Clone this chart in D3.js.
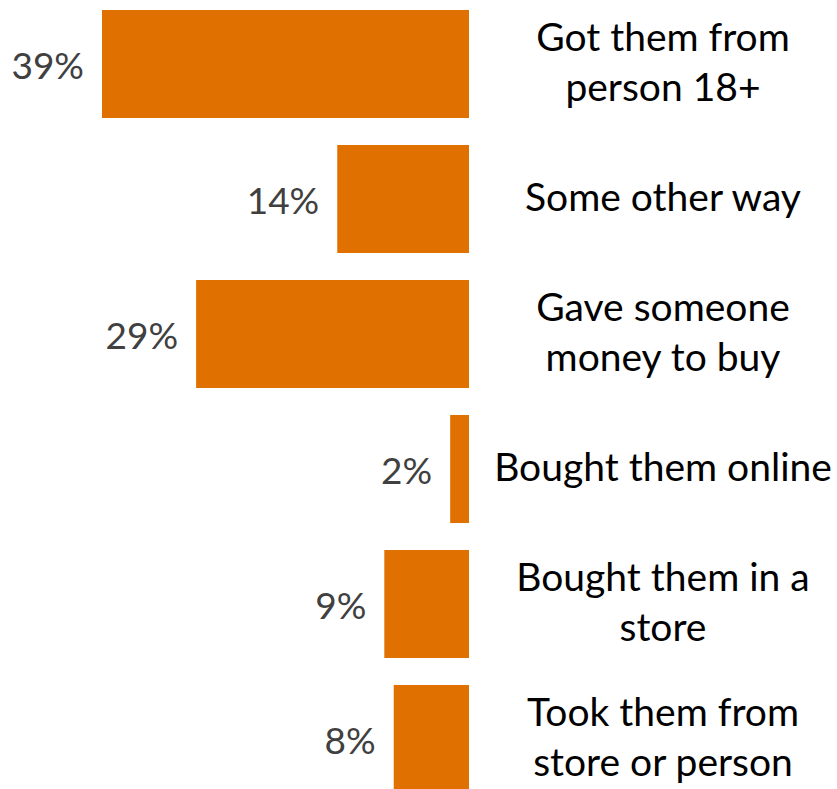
<!DOCTYPE html>
<html><head><meta charset="utf-8">
<script src="https://cdn.jsdelivr.net/npm/d3@7"></script>
<style>html,body{margin:0;padding:0;background:#fff;overflow:hidden}</style>
</head><body>
<svg id="chart" width="837" height="789"></svg>
<script>
const categories = ["Got them from person 18+","Some other way","Gave someone money to buy","Bought them online","Bought them in a store","Took them from store or person"];
const labelLines = [["Got them from","person 18+"],["Some other way"],["Gave someone","money to buy"],["Bought them online"],["Bought them in a","store"],["Took them from","store or person"]];
const values = [39,14,29,2,9,8];
const valueLabels = ["39%","14%","29%","2%","9%","8%"];

const svg = d3.select("#chart");
const x = d3.scaleLinear().domain([0,39]).range([469,102]);
const y = d3.scaleBand().domain(categories).range([-3.5,806.5]).paddingInner(0.2).paddingOuter(0.1);
const font = "Lato, 'Open Sans', sans-serif";

svg.selectAll("rect.bar").data(categories).join("rect")
  .attr("class","bar")
  .attr("x",(d,i)=>x(values[i]))
  .attr("width",(d,i)=>x(0)-x(values[i]))
  .attr("y",d=>y(d))
  .attr("height",y.bandwidth())
  .attr("fill","#E07000");

svg.selectAll("text.val").data(categories).join("text")
  .attr("class","val")
  .attr("x",(d,i)=>x(values[i])-18)
  .attr("y",d=>y(d)+y.bandwidth()/2+15)
  .attr("text-anchor","end")
  .attr("font-family",font)
  .attr("font-size",37)
  .attr("fill","#404040")
  .text((d,i)=>valueLabels[i]);

const lh = 50;
svg.selectAll("text.cat").data(categories).join("text")
  .attr("class","cat")
  .attr("text-anchor","middle")
  .attr("font-family",font)
  .attr("font-size",39)
  .attr("fill","#000")
  .each(function(d,i){
    const lines = labelLines[i];
    const c = y(d)+y.bandwidth()/2+12;
    const t = d3.select(this);
    lines.forEach((ln,j)=>{
      t.append("tspan").attr("x",663)
       .attr("y",c + (j-(lines.length-1)/2)*lh)
       .text(ln);
    });
  });
</script>
</body></html>
